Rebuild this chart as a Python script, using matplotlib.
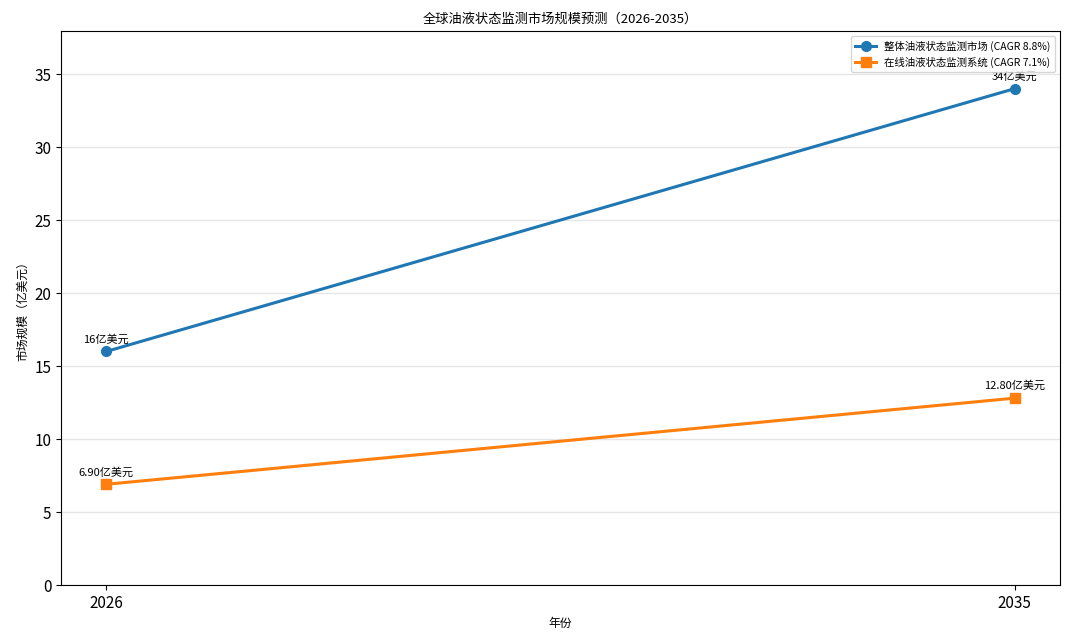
import matplotlib
matplotlib.use("Agg")
import matplotlib.pyplot as plt

plt.rcParams['font.family'] = ['Noto Sans CJK SC', 'DejaVu Sans']

years = [2026, 2035]
overall = [16, 34]
online = [6.90, 12.80]
overall_labels = ["16亿美元", "34亿美元"]
online_labels = ["6.90亿美元", "12.80亿美元"]
series_names = ["整体油液状态监测市场 (CAGR 8.8%)", "在线油液状态监测系统 (CAGR 7.1%)"]

fig = plt.figure(figsize=(10.7, 6.4), dpi=100)
ax = fig.add_axes([61/1070, 1-585/640, (1060-61)/1070, (585-31)/640])

ax.plot(years, overall, marker='o', color='#1f77b4', linewidth=2.2, markersize=7, label=series_names[0])
ax.plot(years, online, marker='s', color='#ff7f0e', linewidth=2.2, markersize=7, label=series_names[1])

for x, y, t in zip(years, overall, overall_labels):
    ax.annotate(t, (x, y), xytext=(0, 5), textcoords='offset points', ha='center', va='bottom', fontsize=8)
for x, y, t in zip(years, online, online_labels):
    ax.annotate(t, (x, y), xytext=(0, 5), textcoords='offset points', ha='center', va='bottom', fontsize=8)

ax.set_ylim(0, 37.95)
ax.set_xticks(years)
ax.set_xticklabels([str(y) for y in years])
ax.tick_params(axis='both', labelsize=11)
ax.grid(axis='y', color='#e6e6e6', linewidth=1)
ax.set_axisbelow(True)
ax.set_title("全球油液状态监测市场规模预测（2026-2035）", fontsize=9.5)
ax.set_xlabel("年份", fontsize=8.5)
ax.set_ylabel("市场规模（亿美元）", fontsize=8.5)
ax.legend(loc='upper right', fontsize=7.5)

fig.savefig("out.png", dpi=100)
